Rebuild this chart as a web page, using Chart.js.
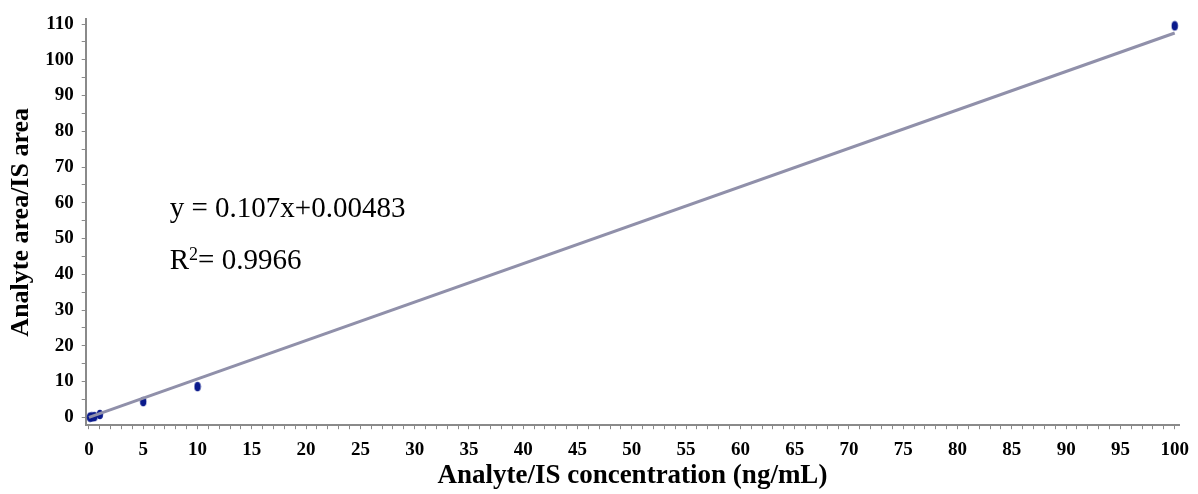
<!DOCTYPE html>
<html>
<head>
<meta charset="utf-8">
<script src="https://cdn.jsdelivr.net/npm/chart.js@4.4.1/dist/chart.umd.min.js"></script>
<style>
  body { margin: 0; background: #fff; }
  #wrap { width: 1198px; height: 494px; }
</style>
</head>
<body>
<div id="wrap"><canvas id="calib" width="1198" height="494"></canvas></div>
<script>
// calibration points
const concentrations = [0.1, 0.25, 0.5, 1, 5, 10, 100]
const areaRatios = [0.05, 0.1, 0.2, 0.8, 4.4, 8.6, 109.5]

// fitted line end points (as drawn)
const fitX = [0, 100]
const fitY = [0.0, 107.5]

const equationText = 'y = 0.107x+0.00483'
const r2Value = '= 0.9966'

const xTitle = 'Analyte/IS concentration (ng/mL)'
const yTitle = 'Analyte area/IS area'

const serif = "'Liberation Serif', 'Times New Roman', serif"

// small vertical ellipse used as marker
function makeMarker() {
    const c = document.createElement('canvas')
    c.width = 8
    c.height = 11
    const g = c.getContext('2d')
    g.fillStyle = '#0a1a8c'
    g.beginPath()
    g.ellipse(4, 5.5, 3.2, 4.8, 0, 0, Math.PI * 2)
    g.fill()
    return c
}

const equationPlugin = {
    id: 'equation',
    afterDatasetsDraw(chart) {
        const { ctx, chartArea } = chart
        const left = chartArea.left + 84
        ctx.save()
        ctx.fillStyle = '#000'
        ctx.textBaseline = 'middle'
        ctx.font = '29px ' + serif
        ctx.fillText(equationText, left, 209)
        ctx.fillText('R', left, 261)
        const rw = ctx.measureText('R').width
        ctx.font = '18px ' + serif
        ctx.fillText('2', left + rw, 255)
        const sw = ctx.measureText('2').width
        ctx.font = '29px ' + serif
        ctx.fillText(r2Value, left + rw + sw, 261)
        ctx.restore()
    }
}

const ctx = document.getElementById('calib').getContext('2d')
new Chart(ctx, {
    type: 'scatter',
    data: {
        datasets: [{
            type: 'line',
            label: 'fit',
            data: fitX.map((x, i) => ({ x: x, y: fitY[i] })),
            borderColor: '#9090aa',
            borderWidth: 3,
            pointRadius: 0,
            fill: false
        }, {
            label: 'standards',
            data: concentrations.map((x, i) => ({ x: x, y: areaRatios[i] })),
            pointStyle: makeMarker(),
            backgroundColor: '#0a1a8c'
        }]
    },
    options: {
        responsive: false,
        animation: false,
        layout: { padding: { top: 6, right: 9, left: 6, bottom: 4 } },
        plugins: {
            legend: { display: false },
            tooltip: { enabled: false }
        },
        scales: {
            x: {
                type: 'linear',
                min: -0.3,
                max: 100.4,
                border: { color: '#8a8a8a', width: 2 },
                grid: { display: true, drawOnChartArea: false, tickLength: 4, color: '#8a8a8a' },
                ticks: {
                    stepSize: 1,
                    includeBounds: false,
                    autoSkip: false,
                    maxRotation: 0,
                    padding: 9,
                    color: '#000',
                    font: { family: serif, size: 19, weight: 'bold' },
                    callback: v => (v % 5 === 0 ? v : '')
                },
                title: {
                    display: true,
                    text: xTitle,
                    color: '#000',
                    padding: { top: -7, bottom: 0 },
                    font: { family: serif, size: 27, weight: 'bold', lineHeight: 1 }
                }
            },
            y: {
                min: -2.2,
                max: 111.3,
                border: { color: '#8a8a8a', width: 2 },
                grid: { display: true, drawOnChartArea: false, tickLength: 4, color: '#8a8a8a' },
                ticks: {
                    stepSize: 5,
                    includeBounds: false,
                    autoSkip: false,
                    padding: 8,
                    color: '#000',
                    font: { family: serif, size: 19, weight: 'bold' },
                    callback: v => (v % 10 === 0 ? v : '')
                },
                title: {
                    display: true,
                    text: yTitle,
                    color: '#000',
                    padding: { top: 0, bottom: 0 },
                    font: { family: serif, size: 26, weight: 'bold' }
                }
            }
        }
    },
    plugins: [equationPlugin]
})
</script>
</body>
</html>
